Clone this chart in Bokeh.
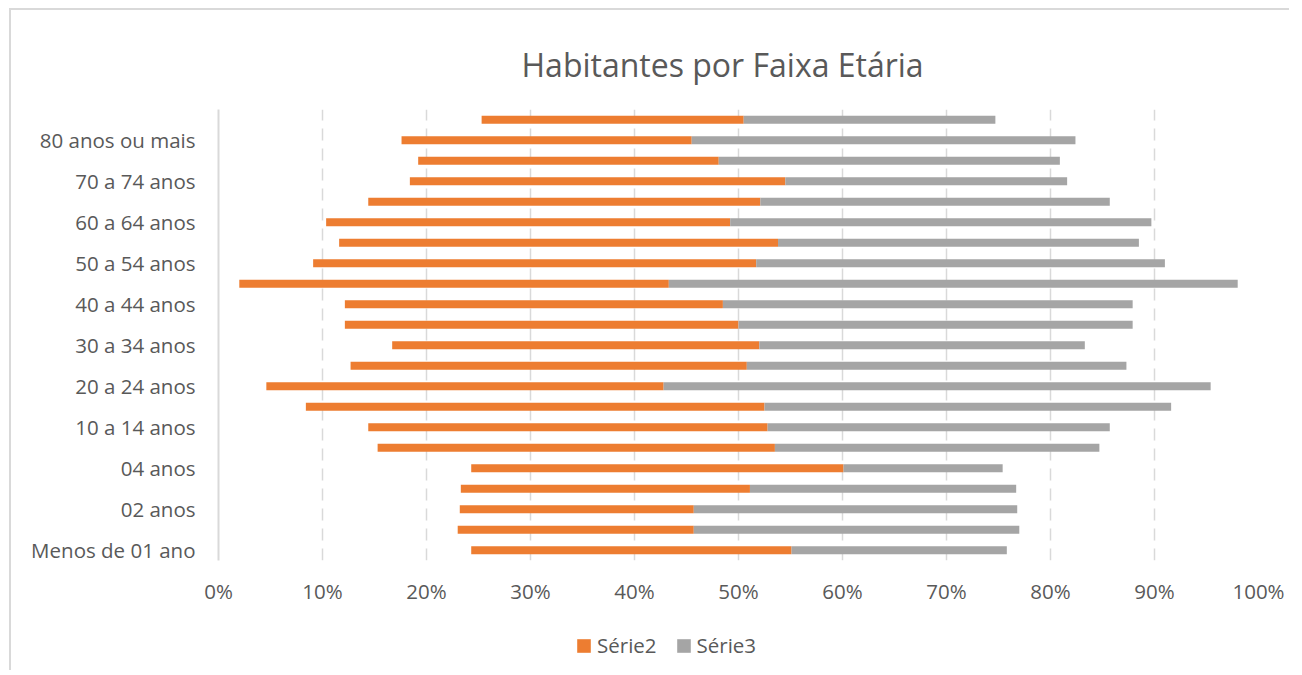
from bokeh.plotting import figure
from bokeh.layouts import column
from bokeh.models import (ColumnDataSource, Range1d, FixedTicker, NumeralTickFormatter,
                          Legend, LegendItem, Title)
from bokeh.embed import file_html
from bokeh.resources import INLINE

# Categories (bottom to top); only every other one is labelled in the reference
categories = ["Menos de 01 ano", "01 ano", "02 anos", "03 anos", "04 anos", "05 a 09 anos",
              "10 a 14 anos", "15 a 19 anos", "20 a 24 anos", "25 a 29 anos", "30 a 34 anos",
              "35 a 39 anos", "40 a 44 anos", "45 a 49 anos", "50 a 54 anos", "55 a 59 anos",
              "60 a 64 anos", "65 a 69 anos", "70 a 74 anos", "75 a 79 anos", "80 anos ou mais",
              "Total"]

# Hidden offset series (Série1) and the two visible series, as fractions
serie1 = [0.243, 0.230, 0.232, 0.233, 0.243, 0.153, 0.144, 0.084, 0.046, 0.127, 0.167,
          0.1215, 0.1215, 0.020, 0.091, 0.116, 0.1035, 0.144, 0.184, 0.192, 0.176, 0.253]
serie2 = [0.308, 0.227, 0.225, 0.278, 0.358, 0.382, 0.384, 0.441, 0.382, 0.381, 0.353,
          0.3785, 0.3635, 0.413, 0.426, 0.422, 0.3885, 0.377, 0.361, 0.289, 0.279, 0.252]
serie3 = [0.207, 0.313, 0.311, 0.256, 0.153, 0.312, 0.329, 0.391, 0.526, 0.365, 0.313,
          0.379, 0.394, 0.547, 0.393, 0.347, 0.405, 0.336, 0.271, 0.328, 0.369, 0.242]

x_ticks = [0, 0.1, 0.2, 0.3, 0.4, 0.5, 0.6, 0.7, 0.8, 0.9, 1.0]

title_text = "Habitantes por Faixa Etária"
series_names = ["Série2", "Série3"]
colors = ["#ED7D31", "#A5A5A5"]
FONT = "Open Sans"
TXT = "#595959"

pos = list(range(len(categories)))
left2 = serie1
right2 = [a + b for a, b in zip(serie1, serie2)]
right3 = [a + b + c for a, b, c in zip(serie1, serie2, serie3)]

src = ColumnDataSource(dict(y=pos, l2=left2, r2=right2, r3=right3))

p = figure(output_backend="svg", toolbar_location=None,
           x_range=Range1d(0, 1), y_range=Range1d(-0.5, len(categories) - 0.5),
           frame_width=1040, frame_height=451,
           min_border_left=207, min_border_right=31, min_border_top=99, min_border_bottom=50,
           background_fill_color="white", border_fill_color="white",
           outline_line_color=None)

r2 = p.hbar(y="y", left="l2", right="r2", height=0.4, source=src,
            fill_color=colors[0], line_color=None)
r3 = p.hbar(y="y", left="r2", right="r3", height=0.4, source=src,
            fill_color=colors[1], line_color=None)

# axes
p.xaxis.ticker = FixedTicker(ticks=x_ticks)
p.xaxis.formatter = NumeralTickFormatter(format="0%")
p.xaxis.axis_line_color = None
p.xaxis.major_tick_line_color = None
p.xaxis.minor_tick_line_color = None
p.xaxis.major_label_text_font = FONT
p.xaxis.major_label_text_font_size = "20.5px"
p.xaxis.major_label_text_color = TXT
p.xaxis.major_label_standoff = 10

p.yaxis.ticker = FixedTicker(ticks=pos[::2])
p.yaxis.major_label_overrides = {i: categories[i] for i in pos[::2]}
p.yaxis.axis_line_color = "#D9D9D9"
p.yaxis.axis_line_width = 2
p.yaxis.major_tick_line_color = None
p.yaxis.minor_tick_line_color = None
p.yaxis.major_label_text_font = FONT
p.yaxis.major_label_text_font_size = "20.5px"
p.yaxis.major_label_text_color = TXT
p.yaxis.major_label_standoff = 17

p.ygrid.visible = False
p.xgrid.ticker = FixedTicker(ticks=x_ticks[1:])
p.xgrid.grid_line_color = "#D9D9D9"
p.xgrid.grid_line_width = 1.5
p.xgrid.grid_line_dash = "12 8"

# title
p.title = Title(text=title_text, align="left", offset=303, standoff=47,
                text_font=FONT, text_font_size="32px", text_font_style="normal",
                text_color=TXT)

# legend strip: same series drawn off-range, used only for the legend
pl = figure(output_backend="svg", toolbar_location=None,
            x_range=Range1d(0, 1), y_range=Range1d(100, 101),
            frame_width=1040, frame_height=60,
            min_border_left=207, min_border_right=31, min_border_top=0, min_border_bottom=0,
            x_axis_location=None, y_axis_location=None,
            background_fill_color="white", border_fill_color="white",
            outline_line_color=None)
pl.grid.visible = False
l2 = pl.hbar(y="y", left="l2", right="r2", height=0.4, source=src,
             fill_color=colors[0], line_color=None)
l3 = pl.hbar(y="y", left="r2", right="r3", height=0.4, source=src,
             fill_color=colors[1], line_color=None)

legend = Legend(items=[LegendItem(label=series_names[0], renderers=[l2]),
                       LegendItem(label=series_names[1], renderers=[l3]),
                       ],
                orientation="horizontal", location=(357, 11),
                glyph_width=17, glyph_height=17, label_standoff=5, spacing=18,
                padding=0, margin=0, border_line_color=None, background_fill_alpha=0,
                label_text_font=FONT, label_text_font_size="20.5px", label_text_color=TXT)
pl.add_layout(legend, "center")

layout = column(p, pl, spacing=0,
                styles={"border-left": "2px solid #D9D9D9", "border-top": "2px solid #D9D9D9",
                        "margin-left": "9px", "margin-top": "8px"})

open("out.html", "w").write(file_html(layout, INLINE))
